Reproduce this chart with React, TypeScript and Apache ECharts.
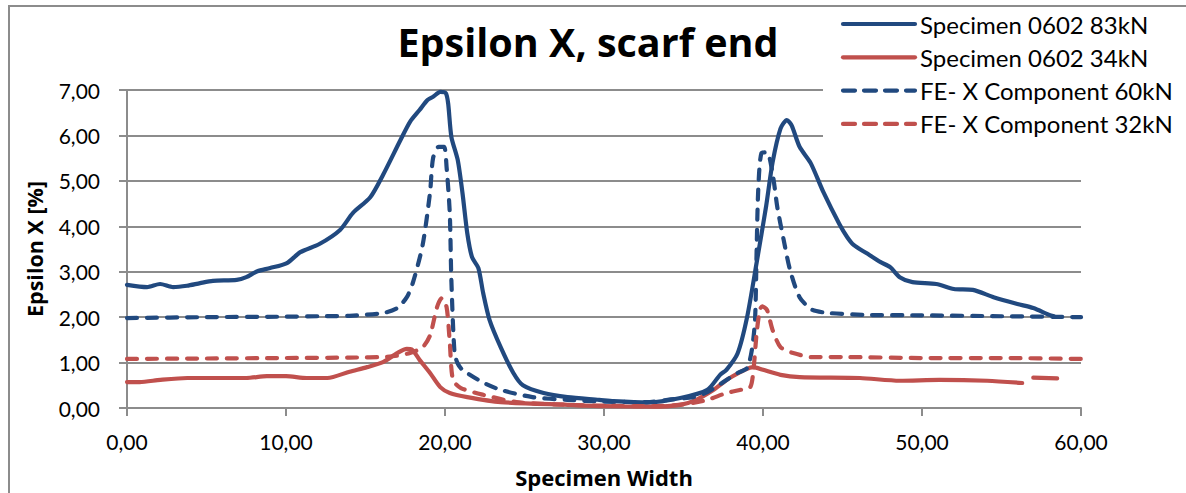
import React, { useEffect, useRef } from "react";
import * as echarts from "echarts";

const seriesNames = [
  "Specimen 0602 83kN",
  "Specimen 0602 34kN",
  "FE- X Component 60kN",
  "FE- X Component 32kN",
];

const xTicks = [0, 10, 20, 30, 40, 50, 60];
const yTicks = [0, 1, 2, 3, 4, 5, 6, 7];

const s83: [number, number][] = [
  [0, 2.71], [1.26, 2.66], [2.08, 2.73], [2.9, 2.66], [3.77, 2.69], [4.6, 2.75], [5.4, 2.8],
  [6.9, 2.82], [7.5, 2.88], [8.2, 3.01], [9, 3.08], [10.06, 3.19], [10.9, 3.43], [12.1, 3.61],
  [13.4, 3.92], [14.2, 4.29], [15.3, 4.64], [16.1, 5.13], [17.2, 5.9], [17.8, 6.3], [18.4, 6.56],
  [18.9, 6.78], [19.25, 6.85], [19.7, 6.96], [20.05, 6.93], [20.2, 6.7], [20.4, 5.97], [20.8, 5.46],
  [21.1, 4.73], [21.4, 3.85], [21.7, 3.32], [22.1, 3.08], [22.4, 2.53], [22.8, 1.94], [23.5, 1.34],
  [24.3, 0.77], [24.9, 0.5], [26.2, 0.33], [27.7, 0.24], [29.7, 0.18], [30.6, 0.15], [32.7, 0.12],
  [34.8, 0.22], [36.5, 0.4], [37.3, 0.73], [37.7, 0.84], [38.4, 1.2], [39, 2.0], [39.6, 3.2],
  [40.2, 4.45], [40.6, 5.4], [41.1, 6.15], [41.5, 6.34], [41.8, 6.22], [42.3, 5.75], [43, 5.39],
  [43.8, 4.75], [44.8, 4.05], [45.3, 3.76], [45.7, 3.59], [46.5, 3.41], [47.4, 3.21], [48, 3.1],
  [48.6, 2.88], [49.4, 2.77], [50.9, 2.73], [52, 2.62], [53.2, 2.6], [54.5, 2.44], [56, 2.29],
  [57, 2.2], [58, 2.05], [58.3, 2.02],
];

const s34: [number, number][] = [
  [0, 0.57], [0.8, 0.57], [2.1, 0.62], [3.8, 0.66], [5.8, 0.66], [7.5, 0.66], [8.8, 0.7], [10, 0.7],
  [11.3, 0.66], [12.6, 0.66], [14, 0.8], [15.1, 0.9], [16.1, 1.01], [17, 1.21], [17.6, 1.3],
  [17.9, 1.29], [18.4, 1.06], [19.06, 0.77], [19.7, 0.46], [20.3, 0.33], [21.4, 0.24], [23.5, 0.13],
  [27.7, 0.07], [30, 0.04], [33, 0.03], [34.8, 0.07], [35.8, 0.18], [36.9, 0.4], [37.9, 0.66],
  [39.4, 0.9], [40, 0.84], [41.1, 0.73], [42.3, 0.68], [46.1, 0.66], [48.6, 0.6], [51.1, 0.62],
  [54.1, 0.6], [56.3, 0.55],
];

const s34Tail: [number, number][] = [
  [57, 0.67], [58.5, 0.65],
];

const fe60: [number, number][] = [
  [0, 1.98], [5, 2.0], [10, 2.01], [12.1, 2.02], [14, 2.03], [16.1, 2.09], [17, 2.2], [17.6, 2.44],
  [18, 2.78], [18.6, 3.6], [19.06, 4.75], [19.25, 5.5], [19.6, 5.75], [19.94, 5.75], [20.1, 5.3],
  [20.3, 4.29], [20.4, 2.82], [20.6, 1.21], [20.8, 0.98], [21.1, 0.84], [22.4, 0.56], [23.5, 0.4],
  [25.5, 0.24], [27.7, 0.18], [30, 0.14], [32.7, 0.13], [34, 0.18], [35.6, 0.24], [36.5, 0.35],
  [37.5, 0.57], [38.4, 0.77], [39, 0.88], [39.3, 1.28], [39.5, 1.94], [39.6, 3.48], [39.7, 4.8],
  [39.9, 5.61], [40.25, 5.63], [40.6, 5.17], [40.9, 4.42], [41.3, 3.7], [41.7, 3.04], [42.3, 2.44],
  [43.1, 2.16], [44.2, 2.09], [46.3, 2.05], [50, 2.04], [55, 2.02], [60, 2.0],
];

const fe32: [number, number][] = [
  [0, 1.08], [5, 1.09], [10, 1.1], [14, 1.11], [16.5, 1.13], [17.8, 1.21], [18.6, 1.34], [19.06, 1.6],
  [19.5, 2.22], [19.8, 2.42], [20.1, 2.22], [20.3, 1.45], [20.5, 0.62], [21, 0.44], [22.4, 0.29],
  [24.5, 0.13], [27.7, 0.07], [30, 0.05], [33, 0.04], [35, 0.08], [36.5, 0.18], [37.7, 0.33],
  [38.6, 0.4], [39.2, 0.46], [39.4, 0.84], [39.6, 1.65], [39.8, 2.16], [39.95, 2.24], [40.25, 2.16],
  [40.6, 1.72], [41.1, 1.34], [41.9, 1.21], [43.1, 1.12], [45.3, 1.12], [50, 1.1], [55, 1.1],
  [60, 1.08],
];

const BLUE = "#21497f";
const RED = "#c0504d";
const GRID = "#8c8c8c";
const FONT = "Lato, 'Open Sans', sans-serif";
const BOLD_FONT = "'Open Sans', Lato, sans-serif";

const fmt = (v: number) => v.toFixed(2).replace(".", ",");

export default function App() {
  const ref = useRef<HTMLDivElement>(null);

  useEffect(() => {
    if (!ref.current) return;
    const chart = echarts.init(ref.current, undefined, { renderer: "svg" });

    const dash = [10, 10];
    const colors = [BLUE, RED, BLUE, RED];
    const dashed = [false, false, true, true];

    const mkLine = (name: string, data: any[], color: string, isDashed: boolean) => ({
      name,
      type: "line",
      data,
      showSymbol: false,
      symbol: "none",
      smooth: 0.25,
      connectNulls: false,
      z: 3,
      itemStyle: { color },
      lineStyle: {
        color,
        width: 4.2,
        type: isDashed ? dash : "solid",
        cap: "round",
        join: "round",
      },
    });

    const s34Data: any[] = [...s34, [56.65, "-"], ...s34Tail];

    // legend drawn as graphic elements
    const legendX = 843;
    const legendY0 = 24;
    const legendStep = 33.3;
    const legendEls: any[] = [
      {
        type: "rect",
        silent: true,
        z: 10,
        shape: { x: 823, y: 7, width: 400, height: 148 },
        style: { fill: "#ffffff" },
      },
    ];
    seriesNames.forEach((n, i) => {
      const y = legendY0 + i * legendStep;
      legendEls.push({
        type: "line",
        silent: true,
        z: 11,
        shape: { x1: legendX, y1: y, x2: legendX + 72, y2: y },
        style: {
          stroke: colors[i],
          lineWidth: 4.2,
          lineCap: "round",
          lineDash: dashed[i] ? [12, 9] : null,
        },
      });
      legendEls.push({
        type: "text",
        silent: true,
        z: 11,
        x: legendX + 77,
        y,
        style: {
          text: n,
          fontFamily: FONT,
          fontSize: 24,
          fill: "#000",
          verticalAlign: "middle",
          align: "left",
        },
      });
    });

    chart.setOption({
      animation: false,
      backgroundColor: "#ffffff",
      textStyle: { fontFamily: FONT },
      title: {
        text: "Epsilon X, scarf end",
        left: 588,
        textAlign: "center",
        top: 22,
        padding: 0,
        textStyle: {
          fontFamily: BOLD_FONT,
          fontSize: 39.5,
          fontWeight: "bold",
          color: "#000",
        },
      },
      grid: {
        left: 127,
        right: 105,
        top: 90,
        bottom: 85,
        containLabel: false,
      },
      xAxis: {
        type: "value",
        min: xTicks[0],
        max: xTicks[xTicks.length - 1],
        interval: 10,
        name: "Specimen Width",
        nameLocation: "middle",
        nameGap: 58,
        nameTextStyle: {
          fontFamily: BOLD_FONT,
          fontSize: 22,
          fontWeight: "bold",
          color: "#000",
        },
        axisLine: { show: true, lineStyle: { color: GRID, width: 2 } },
        axisTick: { show: true, length: 8, lineStyle: { color: GRID, width: 2 } },
        splitLine: { show: false },
        axisLabel: {
          formatter: (v: number) => fmt(v),
          fontFamily: FONT,
          fontSize: 21,
          color: "#000",
          margin: 23,
        },
      },
      yAxis: {
        type: "value",
        min: yTicks[0],
        max: yTicks[yTicks.length - 1],
        interval: 1,
        name: "Epsilon X [%]",
        nameLocation: "middle",
        nameGap: 82,
        nameTextStyle: {
          fontFamily: BOLD_FONT,
          fontSize: 21.5,
          fontWeight: "bold",
          color: "#000",
        },
        axisLine: { show: true, lineStyle: { color: GRID, width: 2 } },
        axisTick: { show: true, length: 8, lineStyle: { color: GRID, width: 2 } },
        splitLine: { show: true, lineStyle: { color: GRID, width: 2 } },
        axisLabel: {
          formatter: (v: number) => fmt(v),
          fontFamily: FONT,
          fontSize: 21,
          color: "#000",
          margin: 27,
        },
      },
      graphic: [
        ...legendEls,
        {
          type: "rect",
          silent: true,
          z: 100,
          shape: { x: 9, y: 6, width: 1200, height: 520 },
          style: { fill: "none", stroke: GRID, lineWidth: 2 },
        },
      ],
      series: [
        mkLine(seriesNames[0], s83, BLUE, false),
        mkLine(seriesNames[1], s34Data, RED, false),
        mkLine(seriesNames[2], fe60, BLUE, true),
        mkLine(seriesNames[3], fe32, RED, true),
      ],
    });

    return () => chart.dispose();
  }, []);

  return (
    <div
      ref={ref}
      style={{ position: "absolute", left: 0, top: 0, width: 1186, height: 493 }}
    />
  );
}
